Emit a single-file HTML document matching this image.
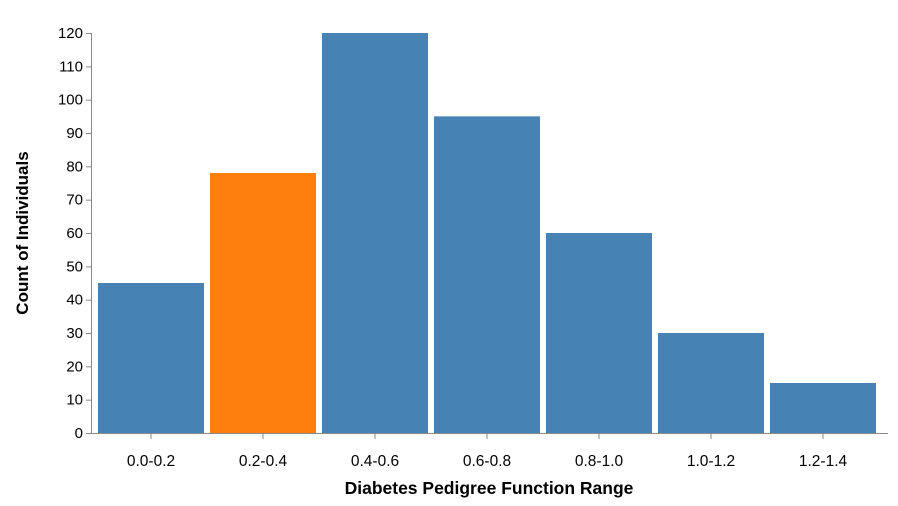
<!DOCTYPE html>
<html><head><meta charset="utf-8"><style>
body{margin:0;background:#fff;}
svg{display:block;font-family:"Liberation Sans",Arial,sans-serif;}
</style></head><body>
<svg id="chart" width="898" height="506"></svg>
<script>
const categories=["0.0-0.2","0.2-0.4","0.4-0.6","0.6-0.8","0.8-1.0","1.0-1.2","1.2-1.4"];
const counts=[45,78,120,95,60,30,15];
const highlighted=["0.2-0.4"];
const yTicks=[0,10,20,30,40,50,60,70,80,90,100,110,120];
const NS="http://www.w3.org/2000/svg";
const svg=document.getElementById('chart');
const x0=92,step=112,pad=6,bw=106,yTop=33,yBot=433,yMax=120,xEnd=888;
function yS(v){return yBot-(v/yMax)*(yBot-yTop);}
function xS(i){return x0+i*step+pad;}
function mk(t,a,p){const e=document.createElementNS(NS,t);for(const k in a)e.setAttribute(k,a[k]);(p||svg).appendChild(e);return e;}
categories.forEach((c,i)=>{
  const r=mk('rect',{x:xS(i),y:yS(counts[i]),width:bw,height:yBot-yS(counts[i]),fill:highlighted.includes(c)?'#ff7f0e':'#4682b4'});
  
  
});
const ya=mk('g',{});


mk('line',{x1:x0-0.5,x2:x0-0.5,y1:yTop,y2:yBot,stroke:'#888'},ya);
yTicks.forEach(t=>{
  mk('line',{x1:x0-6,x2:x0-0.5,y1:yS(t)+0.5,y2:yS(t)+0.5,stroke:'#888'},ya);
  const tx=mk('text',{x:x0-9,y:yS(t)+5,'text-anchor':'end','font-size':'15',fill:'#000'},ya);
  tx.textContent=t;
  
  
});
const yt=mk('text',{transform:'translate(28,233) rotate(-90)','text-anchor':'middle','font-size':'17','font-weight':'bold'});
yt.textContent='Count of Individuals';


const xa=mk('g',{});


mk('line',{x1:x0-0.5,x2:xEnd,y1:yBot+0.5,y2:yBot+0.5,stroke:'#888'},xa);
categories.forEach((c,i)=>{
  const cx=xS(i)+bw/2;
  mk('line',{x1:cx,x2:cx,y1:yBot,y2:yBot+6,stroke:'#888'},xa);
  const tx=mk('text',{x:cx,y:yBot+33,'text-anchor':'middle','font-size':'15.5'},xa);
  tx.textContent=c;
  
  
});
const xt=mk('text',{x:489,y:494,'text-anchor':'middle','font-size':'17.5','font-weight':'bold'});
xt.textContent='Diabetes Pedigree Function Range';


</script>
</body></html>
